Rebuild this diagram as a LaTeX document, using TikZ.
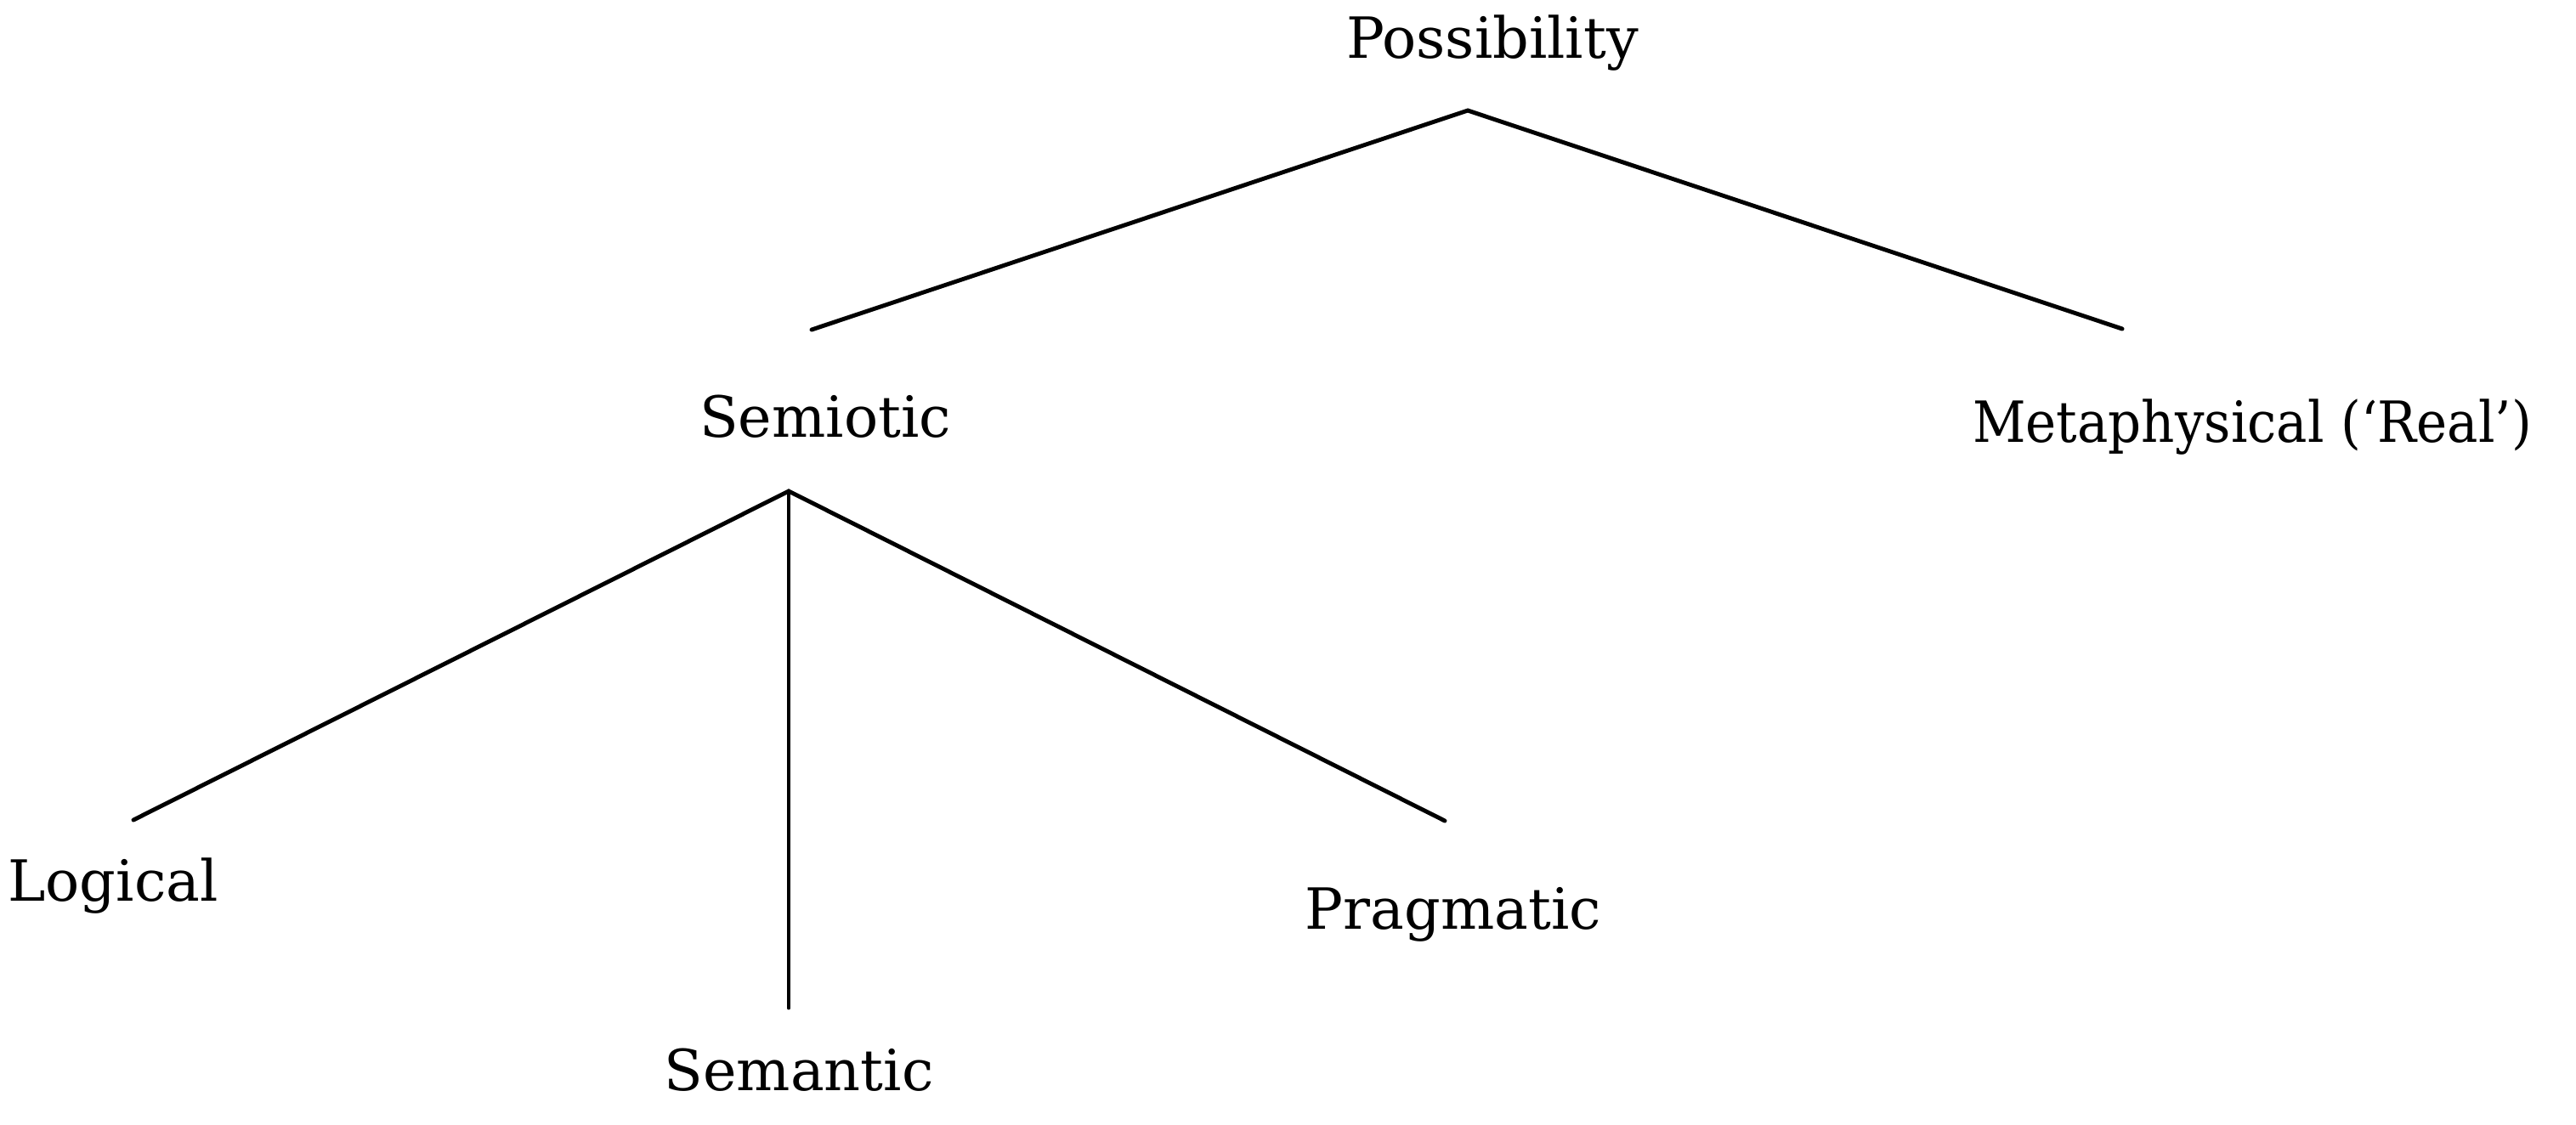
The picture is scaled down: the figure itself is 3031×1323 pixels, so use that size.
\documentclass[tikz,border=0pt]{standalone}
\usepackage{fontspec}
\setmainfont{DejaVu Serif}
\usetikzlibrary{positioning}
\begin{document}
\begin{tikzpicture}[
    x=0.1mm,y=-0.1mm,
    lbl/.style={font=\fontsize{19}{23}\selectfont,inner sep=0pt,anchor=base},
    branch/.style={line width=1.4pt,line cap=round}
  ]
  \useasboundingbox (0,0) rectangle (3031,1323);
  % labels
  \node[lbl] (poss) at (1756,68) {Possibility};
  \node[lbl] (semio) at (971,514) {Semiotic};
  \node[lbl,font=\fontsize{19}{23}\selectfont\addfontfeature{FakeStretch=0.915}] (meta) at (2650,520) {Metaphysical (‘Real’)};
  \node[lbl] (logic) at (133,1060) {Logical};
  \node[lbl] (seman) at (940,1283) {Semantic};
  \node[lbl] (prag) at (1710,1093) {Pragmatic};

  % branch points and ends
  \coordinate (possfork) at (1727,130);
  \coordinate (semioend) at (955,388);
  \coordinate (metaend) at (2497,387);
  \coordinate (semiofork) at (928,578);
  \coordinate (logicend) at (157,965);
  \coordinate (semanend) at (928,1186);
  \coordinate (pragend) at (1700,966);

  \draw[branch] (semioend) -- (possfork) -- (metaend);
  \draw[branch] (logicend) -- (semiofork) -- (pragend);
  \draw[branch] (semiofork) -- (semanend);
\end{tikzpicture}
\end{document}
